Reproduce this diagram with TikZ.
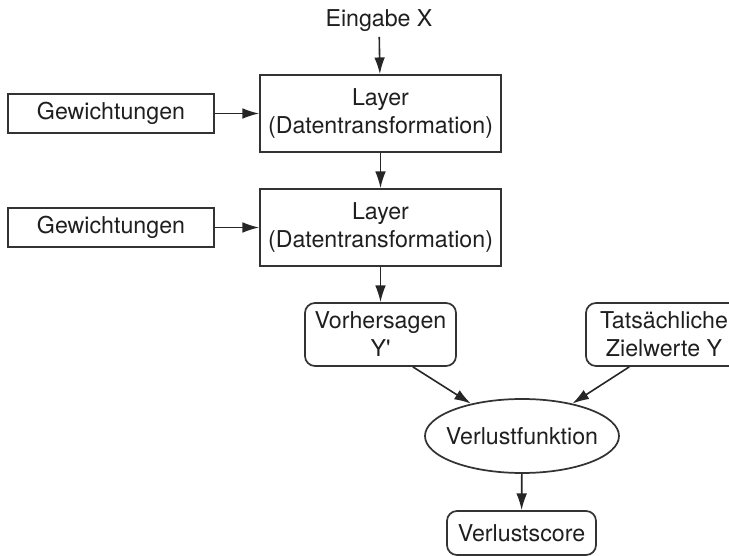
\documentclass[tikz,border=0pt]{standalone}
\usepackage{fontspec}
\setmainfont{TeX Gyre Heros}
\usetikzlibrary{shapes.geometric,arrows.meta}
\begin{document}
\begin{tikzpicture}[x=0.75pt,y=-0.75pt,
  every node/.style={font=\fontsize{17.4pt}{21pt}\selectfont, text=black!88},
  box/.style={draw=black!80, line width=1.3pt, align=center, inner sep=0pt},
  rbox/.style={box, rounded corners=7.5pt},
  conn/.style={draw=black!85, line width=1.2pt, -{Latex[length=12.5pt,width=8pt]}}]
\useasboundingbox (0,0) rectangle (729,556);
\node[anchor=base] (E) at (379,27) {Eingabe X};
\node[box, minimum width=180.75pt, minimum height=57.75pt] (L1) at (380.5,113.5) {Layer\\(Datentransformation)};
\node[box, minimum width=154.5pt, minimum height=28.9pt] (G1) at (111,113.5) {Gewichtungen};
\node[box, minimum width=180.75pt, minimum height=57.75pt] (L2) at (380.5,227.5) {Layer\\(Datentransformation)};
\node[box, minimum width=154.5pt, minimum height=28.9pt] (G2) at (111,227.5) {Gewichtungen};
\node[rbox, minimum width=113.25pt, minimum height=47.25pt] (V) at (380.5,334.5) {Vorhersagen\\Y\textquotesingle};
\node[rbox, minimum width=117pt, minimum height=47.25pt] (T) at (664,334.5) {Tatsächliche\\Zielwerte Y};
\node[ellipse, draw=black!80, line width=1.3pt, inner sep=0pt, minimum width=145.5pt, minimum height=55.5pt, label={center:Verlustfunktion}] (F) at (522,436) {};
\node[rbox, minimum width=111.75pt, minimum height=33pt] (S) at (521.5,533) {Verlustscore};
\draw[conn] (E) -- (L1);
\draw[conn] (G1) -- (L1);
\draw[conn] (L1) -- (L2);
\draw[conn] (G2) -- (L2);
\draw[conn] (L2) -- (V);
\draw[conn] (V.-45) -- (F);
\draw[conn] (T.223) -- (F);
\draw[conn] (F) -- (S);
\end{tikzpicture}
\end{document}
